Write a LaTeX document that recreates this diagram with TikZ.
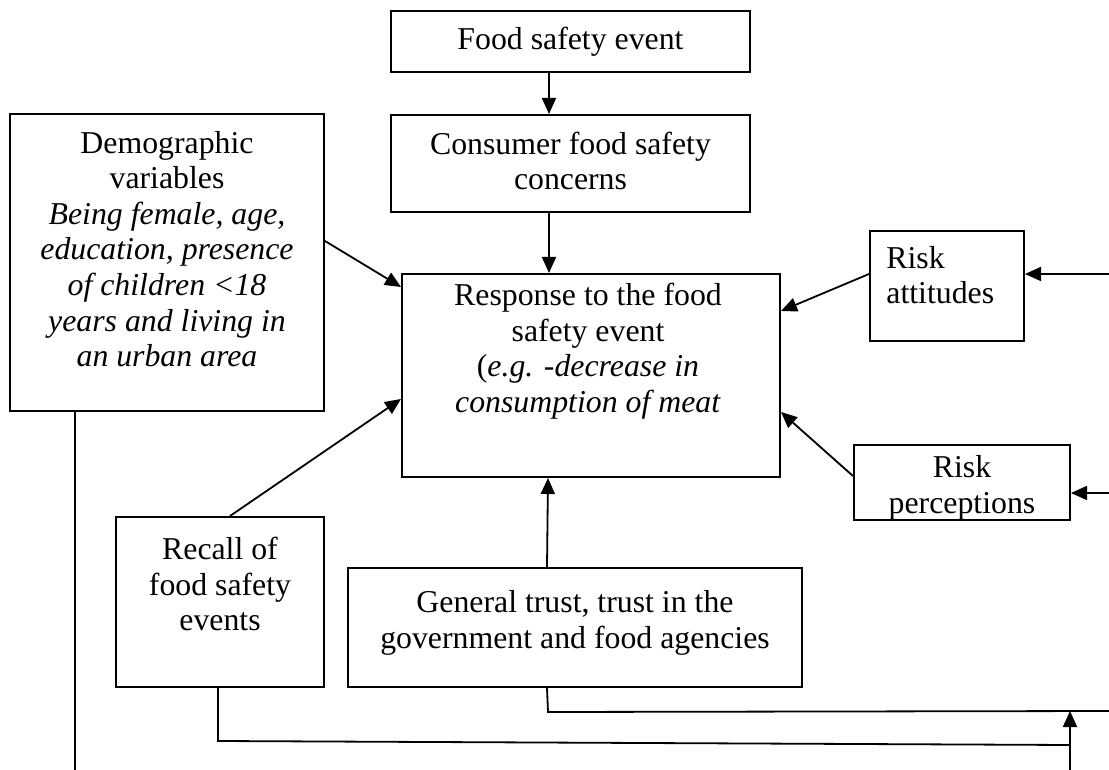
\documentclass[tikz,border=0pt]{standalone}
\usepackage{fontspec}
\setmainfont{Liberation Serif}
\usetikzlibrary{arrows.meta,calc}
\tikzset{
  box/.style 2 args={draw, line width=1pt, minimum width=#1*0.5pt, minimum height=#2*0.5pt, inner sep=0pt},
  txt/.style={align=center, inner sep=0pt, font=\fontsize{15.9}{17.8}\selectfont},
  arr/.style={-{Triangle[length=8pt,width=7pt]}, line width=0.9pt},
  ln/.style={line width=0.9pt}
}
\begin{document}
\begin{tikzpicture}[x=0.5pt, y=-0.5pt]
  \useasboundingbox (0,0) rectangle (1109,770);

  % boxes
  \node[box={359}{61}] (food) at (570.5,41.5) {};
  \node[box={359}{97}] (cons) at (570.5,163.5) {};
  \node[box={314}{297}] (demo) at (167,262.5) {};
  \node[box={378}{203}] (resp) at (591,375.5) {};
  \node[box={154}{110}] (att) at (947,286) {};
  \node[box={216}{75}] (perc) at (962,482.5) {};
  \node[box={208}{170}] (rec) at (220,602) {};
  \node[box={454}{119}] (trust) at (575,627.5) {};

  % texts
  \node[txt] (food-t) at (570.5,42) {Food safety event};
  \node[txt] (cons-t) at (570.5,161) {Consumer food safety\\concerns};
  \node[txt] (demo-t) at (167,249) {Demographic\\variables\\\textit{Being female, age,}\\\textit{education, presence}\\\textit{of children <18}\\\textit{years and living in}\\\textit{an urban area}};
  \node[txt] (resp-t) at (588,351) {Response to the food\\safety event\\(\textit{e.g. -decrease in}\\\textit{consumption of meat}};
  \node[txt, align=left, anchor=west] (att-t) at (886,275) {Risk\\attitudes};
  \node[txt] (perc-t) at (962,488) {Risk\\perceptions};
  \node[txt] (rec-t) at (220,584) {Recall of\\food safety\\events};
  \node[txt] (trust-t) at (575,623) {General trust, trust in the\\government and food agencies};

  % free ends at the page edge
  \coordinate (inA) at (1109,274);
  \coordinate (inP) at (1109,493);
  \coordinate (outT) at (1109,711);
  \coordinate (joinR) at (1070,745);
  \coordinate (botR) at (1070,770);
  \coordinate (botL) at (75,770);

  % arrows into the response
  \draw[arr] ($(food.south west)+(159,0)$) -- ($(cons.north west)+(159,0)$);
  \draw[arr] ($(cons.south west)+(159,0)$) -- ($(cons.south west |- resp.north)+(159,0)$);
  \draw[arr] ($(demo.north east)+(0,128)$) -- ($(resp.north west)+(0,14)$);
  \draw[arr] ($(att.north west)+(0,44)$) -- ($(resp.north east)+(0,38)$);
  \draw[arr] ($(perc.north west)+(0,32)$) -- ($(resp.north east)+(0,139)$);
  \draw[arr] ($(rec.north)+(10,0)$) -- ($(resp.north west)+(0,126)$);
  \draw[arr] ($(trust.north west)+(200,0)$) -- ($(resp.south west)+(147,0)$);
  \draw[arr] (inA) -- (inA -| att.east);
  \draw[arr] (inP) -- (inP -| perc.east);

  % lines at the bottom
  \draw[ln] ($(trust.south west)+(200,0)$) -- ($(trust.south west)+(201,24)$) -- (outT);
  \draw[ln] ($(rec.south)+(-2,0)$) -- ($(rec.south)+(-2,53)$) -- (joinR);
  \draw[arr] (botR) -- (botR |- outT);
  \draw[ln] (botL |- demo.south) -- (botL);
\end{tikzpicture}
\end{document}
